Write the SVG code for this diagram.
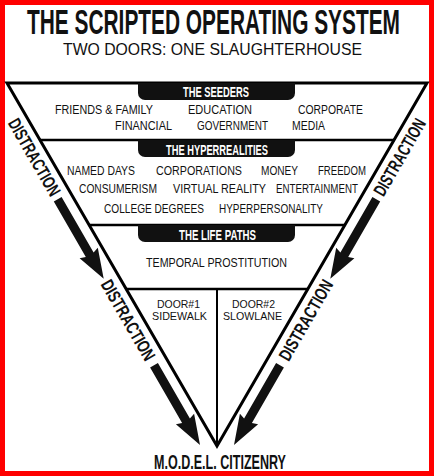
<svg xmlns="http://www.w3.org/2000/svg" width="434" height="476" viewBox="0 0 434 476">
  <style>
    .frame { fill: none; stroke: #000; stroke-width: 3; stroke-linejoin: miter; }
    .sep { stroke: #000; stroke-width: 2.5; }
    .vline { stroke: #000; stroke-width: 2; }
    .pill { fill: #111; }
    .bold { font-family: "Liberation Sans", Arial, sans-serif; font-weight: bold; }
    .pilltxt { font-family: "Liberation Sans", Arial, sans-serif; font-weight: bold; font-size: 15px; fill: #fff; }
    .body { font-family: "Liberation Sans", Arial, sans-serif; font-size: 12.5px; fill: #111; }
    .door { font-family: "Liberation Sans", Arial, sans-serif; font-size: 11px; fill: #111; }
    .dist { font-family: "Liberation Sans", Arial, sans-serif; font-weight: bold; font-size: 18px; fill: #111; }
    .arrow { fill: #111; }
  </style>
  <defs>
    <path id="arr" d="M0,-4.5 L64,-4.5 L62,-10.5 L92,0 L62,10.5 L64,4.5 L0,4.5 Z"/>
  </defs>

  <rect x="2.5" y="2.5" width="429" height="471" fill="#fff" stroke="#ff0000" stroke-width="5"/>

  <g id="title">
    <text class="bold" x="27" y="34" font-size="35" textLength="373" lengthAdjust="spacingAndGlyphs" fill="#111">THE SCRIPTED OPERATING SYSTEM</text>
    <text x="63" y="55" font-family="Liberation Sans, Arial, sans-serif" font-size="16" textLength="299" lengthAdjust="spacingAndGlyphs" fill="#111">TWO DOORS: ONE SLAUGHTERHOUSE</text>
  </g>

  <g id="frame">
    <path class="frame" d="M7,83 L427,83 L217,446 Z"/>
    <line class="sep" x1="39.8" y1="140" x2="394.2" y2="140"/>
    <line class="sep" x1="88.8" y1="225" x2="345.2" y2="225"/>
    <line class="sep" x1="125.6" y1="289" x2="308.4" y2="289"/>
    <line class="vline" x1="217" y1="289" x2="217" y2="446"/>
  </g>

  <g id="seeders">
    <path class="pill" d="M138,83 H295 V93 A7,7 0 0 1 288,100 H145 A7,7 0 0 1 138,93 Z"/>
    <text class="pilltxt" x="183" y="97" textLength="66" lengthAdjust="spacingAndGlyphs">THE SEEDERS</text>
    <text class="body" x="55" y="114" textLength="98" lengthAdjust="spacingAndGlyphs">FRIENDS &amp; FAMILY</text>
    <text class="body" x="188" y="114" textLength="64" lengthAdjust="spacingAndGlyphs">EDUCATION</text>
    <text class="body" x="298" y="114" textLength="65" lengthAdjust="spacingAndGlyphs">CORPORATE</text>
    <text class="body" x="115" y="130" textLength="57" lengthAdjust="spacingAndGlyphs">FINANCIAL</text>
    <text class="body" x="197" y="130" textLength="71" lengthAdjust="spacingAndGlyphs">GOVERNMENT</text>
    <text class="body" x="292" y="130" textLength="33" lengthAdjust="spacingAndGlyphs">MEDIA</text>
  </g>

  <g id="hyperrealities">
    <path class="pill" d="M138,140 H295 V150 A7,7 0 0 1 288,157 H145 A7,7 0 0 1 138,150 Z"/>
    <text class="pilltxt" x="166" y="155" textLength="102" lengthAdjust="spacingAndGlyphs">THE HYPERREALITIES</text>
    <text class="body" x="67" y="175" textLength="68" lengthAdjust="spacingAndGlyphs">NAMED DAYS</text>
    <text class="body" x="156" y="175" textLength="86" lengthAdjust="spacingAndGlyphs">CORPORATIONS</text>
    <text class="body" x="261" y="175" textLength="37" lengthAdjust="spacingAndGlyphs">MONEY</text>
    <text class="body" x="318" y="175" textLength="48" lengthAdjust="spacingAndGlyphs">FREEDOM</text>
    <text class="body" x="79" y="193" textLength="78" lengthAdjust="spacingAndGlyphs">CONSUMERISM</text>
    <text class="body" x="173" y="193" textLength="93" lengthAdjust="spacingAndGlyphs">VIRTUAL REALITY</text>
    <text class="body" x="276" y="193" textLength="82" lengthAdjust="spacingAndGlyphs">ENTERTAINMENT</text>
    <text class="body" x="104" y="212.5" textLength="100" lengthAdjust="spacingAndGlyphs">COLLEGE DEGREES</text>
    <text class="body" x="219" y="212.5" textLength="104" lengthAdjust="spacingAndGlyphs">HYPERPERSONALITY</text>
  </g>

  <g id="life-paths">
    <path class="pill" d="M138,225 H295 V235 A7,7 0 0 1 288,242 H145 A7,7 0 0 1 138,235 Z"/>
    <text class="pilltxt" x="179" y="240" textLength="77" lengthAdjust="spacingAndGlyphs">THE LIFE PATHS</text>
    <text class="body" x="146" y="267" textLength="141" lengthAdjust="spacingAndGlyphs">TEMPORAL PROSTITUTION</text>
  </g>

  <g id="door1">
    <text class="door" x="157" y="307.5" textLength="43" lengthAdjust="spacingAndGlyphs">DOOR#1</text>
    <text class="door" x="152" y="319.5" textLength="55" lengthAdjust="spacingAndGlyphs">SIDEWALK</text>
  </g>

  <g id="door2">
    <text class="door" x="232" y="307.5" textLength="43" lengthAdjust="spacingAndGlyphs">DOOR#2</text>
    <text class="door" x="223" y="319.5" textLength="59" lengthAdjust="spacingAndGlyphs">SLOWLANE</text>
  </g>

  <g id="model-citizenry">
    <text class="bold" x="154" y="469" font-size="20.5" textLength="132" lengthAdjust="spacingAndGlyphs" fill="#111">M.O.D.E.L. CITIZENRY</text>
  </g>

  <g id="distraction-labels">
    <text class="dist" transform="translate(34.6,157.1) rotate(60)" x="0" y="6.5" text-anchor="middle" textLength="86" lengthAdjust="spacingAndGlyphs">DISTRACTION</text>
    <text class="dist" transform="translate(128.4,320) rotate(60)" x="0" y="6.5" text-anchor="middle" textLength="90" lengthAdjust="spacingAndGlyphs">DISTRACTION</text>
    <text class="dist" transform="translate(399.4,157.1) rotate(-60)" x="0" y="6.5" text-anchor="middle" textLength="86" lengthAdjust="spacingAndGlyphs">DISTRACTION</text>
    <text class="dist" transform="translate(305.6,320) rotate(-60)" x="0" y="6.5" text-anchor="middle" textLength="90" lengthAdjust="spacingAndGlyphs">DISTRACTION</text>
  </g>

  <g id="connectors">
    <use href="#arr" class="arrow" transform="translate(57.7,199.2) rotate(60)"/>
    <use href="#arr" class="arrow" transform="translate(154,365.3) rotate(60)"/>
    <g transform="translate(434,0) scale(-1,1)">
      <use href="#arr" class="arrow" transform="translate(57.7,199.2) rotate(60)"/>
      <use href="#arr" class="arrow" transform="translate(154,365.3) rotate(60)"/>
    </g>
  </g>
</svg>
